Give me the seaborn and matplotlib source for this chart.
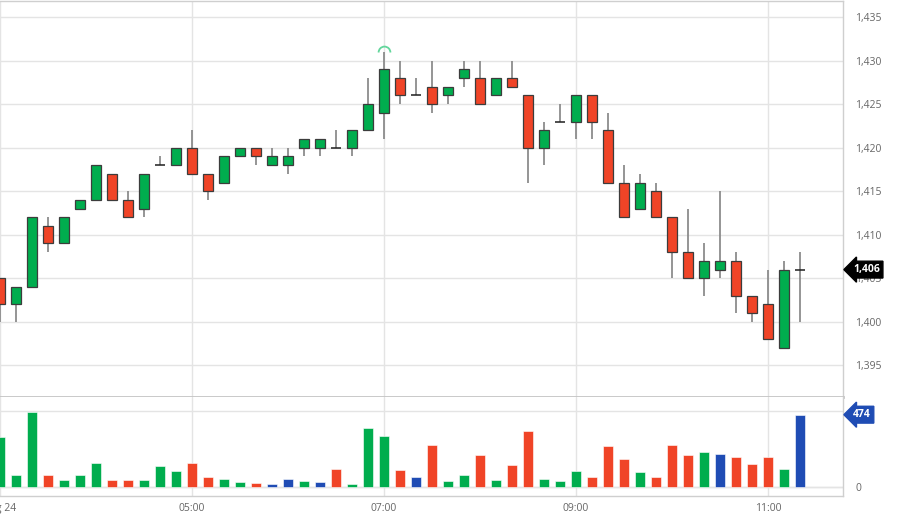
import matplotlib
matplotlib.use("Agg")
import matplotlib.pyplot as plt
import matplotlib.transforms as mtransforms
from matplotlib.path import Path
import seaborn as sns
import pandas as pd

# 10-minute candles, Aug 24, starting 03:00
opens = [1405, 1402, 1404, 1411, 1409, 1413, 1414, 1417, 1414, 1413,
         1418, 1418, 1420, 1417, 1416, 1419, 1420, 1418, 1418, 1420,
         1420, 1420, 1420, 1422, 1424, 1428, 1426, 1427, 1426, 1428,
         1428, 1426, 1428, 1426, 1420, 1423, 1423, 1426, 1422, 1416,
         1413, 1415, 1412, 1408, 1405, 1406, 1407, 1403, 1402, 1397, 1406]
highs = [1405, 1404, 1412, 1412, 1412, 1414, 1418, 1417, 1415, 1417,
         1419, 1420, 1422, 1417, 1419, 1420, 1420, 1420, 1420, 1421,
         1421, 1422, 1422, 1428, 1431, 1430, 1428, 1430, 1427, 1430,
         1430, 1428, 1430, 1426, 1423, 1425, 1426, 1426, 1424, 1418,
         1417, 1416, 1412, 1413, 1409, 1415, 1408, 1403, 1406, 1407, 1408]
lows = [1400, 1400, 1404, 1408, 1409, 1413, 1414, 1414, 1412, 1412,
        1418, 1418, 1417, 1414, 1416, 1419, 1418, 1418, 1417, 1419,
        1419, 1420, 1419, 1422, 1421, 1425, 1426, 1424, 1425, 1427,
        1425, 1426, 1427, 1416, 1418, 1423, 1421, 1421, 1416, 1412,
        1413, 1412, 1405, 1405, 1403, 1405, 1401, 1400, 1398, 1397, 1400]
closes = [1402, 1404, 1412, 1409, 1412, 1414, 1418, 1414, 1412, 1417,
          1418, 1420, 1417, 1415, 1419, 1420, 1419, 1419, 1419, 1421,
          1421, 1420, 1422, 1425, 1429, 1426, 1426, 1425, 1427, 1429,
          1425, 1428, 1427, 1420, 1422, 1423, 1426, 1423, 1416, 1412,
          1416, 1412, 1408, 1405, 1407, 1407, 1403, 1401, 1398, 1406, 1406]
volumes = [328, 79, 491, 79, 48, 76, 155, 44, 44, 44,
           138, 107, 159, 68, 50, 35, 28, 17, 52, 41,
           33, 118, 20, 384, 334, 111, 63, 277, 41, 76,
           207, 46, 144, 367, 50, 37, 103, 63, 266, 183,
           98, 68, 275, 207, 227, 216, 194, 151, 199, 118, 474]
tick_idx = [0, 12, 24, 36, 48]
tick_labels = ["Aug 24", "05:00", "07:00", "09:00", "11:00"]
price_ticks = [1395, 1400, 1405, 1410, 1415, 1420, 1425, 1430, 1435]

GREEN = "#00ad4e"
RED = "#f04427"
BLUE = "#1f4cb4"
GRID = "#e4e4e4"
BORDER = "#cfcfcf"
LABEL = "#666666"

df = pd.DataFrame({"open": opens, "high": highs, "low": lows,
                   "close": closes, "volume": volumes})
df["idx"] = range(len(df))
df["body_lo"] = df[["open", "close"]].min(axis=1)
df["body_h"] = (df["close"] - df["open"]).abs()
df["ccolor"] = [GREEN if c > o else RED for o, c in zip(df["open"], df["close"])]
prev = df["close"].shift(1)
df["vdir"] = ["up" if (pd.isna(p) or c > p) else ("down" if c < p else "flat")
              for c, p in zip(df["close"], prev)]

sns.set_style("white")
plt.rcParams["font.family"] = ["Open Sans", "DejaVu Sans"]

W, H = 910, 528
fig = plt.figure(figsize=(W / 100, H / 100), dpi=100)
right = 843 / W
ax_p = fig.add_axes([0, 1 - 396.5 / H, right, 395.5 / H])
ax_v = fig.add_axes([0, 1 - 496 / H, right, 99 / H])

xmax = 843 / 16
for ax in (ax_p, ax_v):
    ax.set_xlim(0, xmax)
    ax.set_xticks(tick_idx)
    ax.yaxis.tick_right()
    ax.tick_params(length=0, labelsize=7.5, labelcolor=LABEL, pad=9)
    ax.grid(True, color=GRID, lw=1)
    ax.set_axisbelow(True)
    for s in ax.spines.values():
        s.set_color(BORDER)
        s.set_linewidth(1)
    ax.spines["left"].set_visible(False)

# price panel
ax_p.vlines(df["idx"], df["low"], df["high"], color="#8c8c8c", lw=1.3, zorder=2)
solid = df[df["body_h"] > 0]
ax_p.bar(solid["idx"], solid["body_h"], bottom=solid["body_lo"], width=0.67,
         color=solid["ccolor"], edgecolor="#3c3c3c", linewidth=0.9, zorder=3)
doji = df[df["body_h"] == 0]
ax_p.hlines(doji["open"], doji["idx"] - 0.34, doji["idx"] + 0.34,
            color="#1e1e1e", lw=1.1, zorder=3)

top = df["high"].idxmax()
ax_p.plot(top, df.loc[top, "high"], marker=Path.arc(0, 180), ms=8.5,
          mfc="none", mec="#62d69b", mew=1.3, ls="none", zorder=4)

ax_p.set_ylim(1391.43, 1436.84)
ax_p.set_yticks(price_ticks)
ax_p.set_yticklabels([f"{v:,}" for v in price_ticks])
ax_p.set_xticklabels([])
ax_p.spines["bottom"].set_linewidth(2)
ax_p.spines["bottom"].set_color("#c4c4c4")

# volume panel
sns.barplot(data=df, x="idx", y="volume", hue="vdir",
            palette={"up": GREEN, "down": RED, "flat": BLUE},
            native_scale=True, width=0.67, dodge=False, legend=False,
            errorbar=None, saturation=1, edgecolor="#ffffff", linewidth=0.4,
            ax=ax_v)
ax_v.set_xlim(0, xmax)
ax_v.set_ylim(-59, 590)
ax_v.set_yticks([0, 500])
ax_v.set_yticklabels(["0", ""])
ax_v.set_xticks(tick_idx)
ax_v.set_xticklabels(tick_labels)
ax_v.tick_params(axis="x", pad=5)
ax_v.set_xlabel("")
ax_v.set_ylabel("")
ax_v.spines["top"].set_visible(False)
ax_v.axhline(0, color=GRID, lw=1, zorder=0)

# last value tags
for ax, val, txt, fc in ((ax_p, closes[-1], f"{closes[-1]:,}", "#000000"),
                         (ax_v, volumes[-1], f"{volumes[-1]}", BLUE)):
    tr = mtransforms.blended_transform_factory(ax.transAxes, ax.transData)
    ax.text(1.012, val, txt, transform=tr, ha="left", va="center",
            color="white", fontsize=7.5, fontweight="bold", clip_on=False,
            zorder=10,
            bbox=dict(boxstyle="larrow,pad=0.28", fc=fc, ec=fc))

fig.savefig("out.png", dpi=100)
